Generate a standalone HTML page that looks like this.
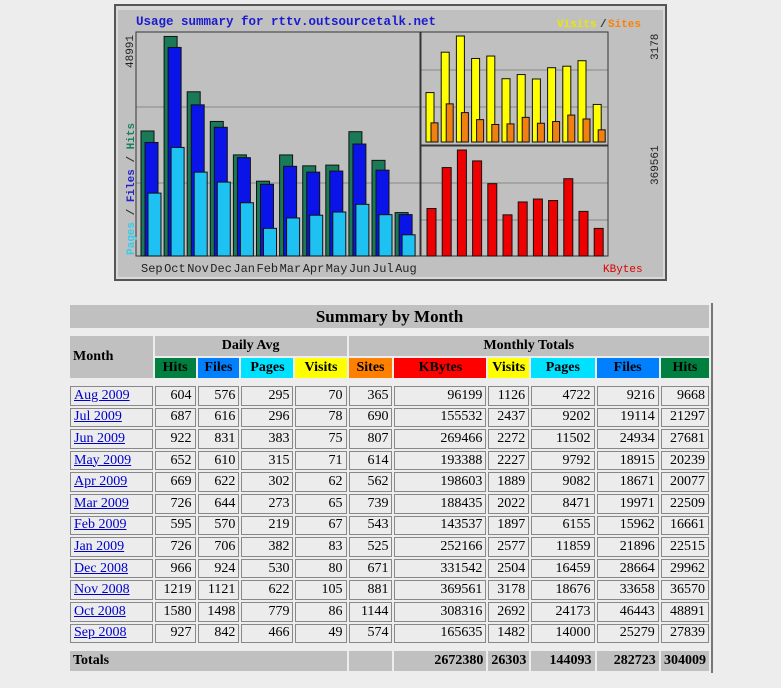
<!DOCTYPE html>
<html><head><meta charset="utf-8"><style>
body{margin:0;background:#ededed;width:781px;height:688px;overflow:hidden;position:relative;font-family:"Liberation Serif",serif}
#chart{position:absolute;left:0;top:0}
table{position:absolute;left:68px;top:303px;border-collapse:separate;border-spacing:2px;table-layout:fixed;width:645px;font-size:14px;background:#ededed;border-right:2px solid #777}
td,th{padding:0 3px;overflow:hidden;white-space:nowrap}
.t{background:#c0c0c0;font-size:17px;font-weight:bold;text-align:center;height:23px}
.h{background:#c0c0c0;font-weight:bold;text-align:center;font-size:14px;height:20px}
.d td{background:#ececec;border:1px solid #888;text-align:right;height:17.6px;font-size:14px;line-height:16px}
.d td:first-child{text-align:left}
a{color:#0000cc;text-decoration:underline}
.tot td{background:#c0c0c0;font-weight:bold;text-align:right;height:20px}
</style></head><body>
<svg id="chart" width="781" height="290" xmlns="http://www.w3.org/2000/svg" font-family="Liberation Mono, monospace">
<rect x="115" y="5" width="551" height="275" fill="#d8d8d8" stroke="#555" stroke-width="2"/>
<rect x="118" y="10" width="545" height="267" fill="#c0c0c0"/>
<text x="136" y="25" font-size="12.5" font-weight="bold" fill="#1a1ad0">Usage summary for rttv.outsourcetalk.net</text>
<text x="557" y="27" font-size="11" font-weight="bold" fill="#e8e800">Visits</text><text x="600" y="27" font-size="11" font-weight="bold" fill="#333">/</text><text x="608" y="27" font-size="11" font-weight="bold" fill="#ff8000">Sites</text>
<g stroke="#888" stroke-width="1"><line x1="136" y1="107" x2="420" y2="107"/><line x1="136" y1="183" x2="420" y2="183"/>
<line x1="421" y1="70" x2="608" y2="70"/><line x1="421" y1="107" x2="608" y2="107"/><line x1="421" y1="183" x2="608" y2="183"/><line x1="421" y1="220" x2="608" y2="220"/></g>
<g fill="none" stroke="#333"><rect x="136" y="32" width="284" height="224"/><rect x="421" y="32" width="187" height="113"/><rect x="421" y="146" width="187" height="110"/></g>
<g id="bars" stroke="#111" stroke-width="1"></g>
<text transform="translate(133,68) rotate(-90)" font-size="11" fill="#222">48991</text>
<text transform="translate(658,60) rotate(-90)" font-size="11" fill="#222">3178</text>
<text transform="translate(658,185) rotate(-90)" font-size="11" fill="#222">369561</text>
<text transform="translate(134,255) rotate(-90)" font-size="11" font-weight="bold"><tspan fill="#33ccee">Pages</tspan><tspan fill="#333"> / </tspan><tspan fill="#2222cc">Files</tspan><tspan fill="#333"> / </tspan><tspan fill="#1a8060">Hits</tspan></text>
<g id="months" font-size="12" fill="#222"></g>
<text x="603" y="272" font-size="11" fill="#e00000">KBytes</text>
</svg>
<script>
var H=[27839,48891,36570,29962,22515,16661,22509,20077,20239,27681,21297,9668],
F=[25279,46443,33658,28664,21896,15962,19971,18671,18915,24934,19114,9216],
P=[14000,24173,18676,16459,11859,6155,8471,9082,9792,11502,9202,4722],
V=[1482,2692,3178,2504,2577,1897,2022,1889,2227,2272,2437,1126],
S=[574,1144,881,671,525,543,739,562,614,807,690,365],
K=[165635,308316,369561,331542,252166,143537,188435,198603,193388,269466,155532,96199],
M=["Sep","Oct","Nov","Dec","Jan","Feb","Mar","Apr","May","Jun","Jul","Aug"];
var s="",m="";
function r(x,y,w,h,c){return '<rect x="'+x+'" y="'+y+'" width="'+w+'" height="'+h+'" fill="'+c+'"/>';}
for(var i=0;i<12;i++){var x=141+i*23.1;
var h=H[i]/48991*220;s+=r(x,256-h,13,h,"#1a7a58");
h=F[i]/48991*220;s+=r(x+4,256-h,13,h,"#0a14e8");
h=P[i]/48991*220;s+=r(x+7,256-h,13,h,"#1ec2f2");
var vx=426+i*15.2;h=V[i]/3178*106;s+=r(vx,142-h,8,h,"#ffff00");
h=S[i]/3178*106;s+=r(vx+5,142-h,7,h,"#f08010");
h=K[i]/369561*106;s+=r(427+i*15.2,256-h,9,h,"#ee0000");
m+='<text x="'+(141+i*23.1)+'" y="272">'+M[i]+'</text>';}
document.getElementById("bars").innerHTML=s;document.getElementById("months").innerHTML=m;
</script>
<table>
<colgroup><col style="width:81px"><col style="width:40px"><col style="width:41px"><col style="width:51px"><col style="width:50px"><col style="width:43px"><col style="width:90px"><col style="width:40px"><col style="width:62px"><col style="width:61px"><col style="width:47px"></colgroup>
<tr><td colspan="11" class="t">Summary by Month</td></tr>
<tr style="height:4px"><td colspan="11" style="height:2px;padding:0"></td></tr>
<tr><td rowspan="2" class="h" style="text-align:left">Month</td><td colspan="4" class="h">Daily Avg</td><td colspan="6" class="h">Monthly Totals</td></tr>
<tr class="h">
<td class="h" style="background:#008040">Hits</td><td class="h" style="background:#0080ff">Files</td><td class="h" style="background:#00e0ff">Pages</td><td class="h" style="background:#ffff00">Visits</td><td class="h" style="background:#ff8000">Sites</td><td class="h" style="background:#ff0000">KBytes</td><td class="h" style="background:#ffff00">Visits</td><td class="h" style="background:#00e0ff">Pages</td><td class="h" style="background:#0080ff">Files</td><td class="h" style="background:#008040">Hits</td></tr>
<tr style="height:4px"><td colspan="11" style="height:2px;padding:0"></td></tr>
<tr class="d"><td><a>Aug 2009</a></td><td>604</td><td>576</td><td>295</td><td>70</td><td>365</td><td>96199</td><td>1126</td><td>4722</td><td>9216</td><td>9668</td></tr>
<tr class="d"><td><a>Jul 2009</a></td><td>687</td><td>616</td><td>296</td><td>78</td><td>690</td><td>155532</td><td>2437</td><td>9202</td><td>19114</td><td>21297</td></tr>
<tr class="d"><td><a>Jun 2009</a></td><td>922</td><td>831</td><td>383</td><td>75</td><td>807</td><td>269466</td><td>2272</td><td>11502</td><td>24934</td><td>27681</td></tr>
<tr class="d"><td><a>May 2009</a></td><td>652</td><td>610</td><td>315</td><td>71</td><td>614</td><td>193388</td><td>2227</td><td>9792</td><td>18915</td><td>20239</td></tr>
<tr class="d"><td><a>Apr 2009</a></td><td>669</td><td>622</td><td>302</td><td>62</td><td>562</td><td>198603</td><td>1889</td><td>9082</td><td>18671</td><td>20077</td></tr>
<tr class="d"><td><a>Mar 2009</a></td><td>726</td><td>644</td><td>273</td><td>65</td><td>739</td><td>188435</td><td>2022</td><td>8471</td><td>19971</td><td>22509</td></tr>
<tr class="d"><td><a>Feb 2009</a></td><td>595</td><td>570</td><td>219</td><td>67</td><td>543</td><td>143537</td><td>1897</td><td>6155</td><td>15962</td><td>16661</td></tr>
<tr class="d"><td><a>Jan 2009</a></td><td>726</td><td>706</td><td>382</td><td>83</td><td>525</td><td>252166</td><td>2577</td><td>11859</td><td>21896</td><td>22515</td></tr>
<tr class="d"><td><a>Dec 2008</a></td><td>966</td><td>924</td><td>530</td><td>80</td><td>671</td><td>331542</td><td>2504</td><td>16459</td><td>28664</td><td>29962</td></tr>
<tr class="d"><td><a>Nov 2008</a></td><td>1219</td><td>1121</td><td>622</td><td>105</td><td>881</td><td>369561</td><td>3178</td><td>18676</td><td>33658</td><td>36570</td></tr>
<tr class="d"><td><a>Oct 2008</a></td><td>1580</td><td>1498</td><td>779</td><td>86</td><td>1144</td><td>308316</td><td>2692</td><td>24173</td><td>46443</td><td>48891</td></tr>
<tr class="d"><td><a>Sep 2008</a></td><td>927</td><td>842</td><td>466</td><td>49</td><td>574</td><td>165635</td><td>1482</td><td>14000</td><td>25279</td><td>27839</td></tr>
<tr style="height:4px"><td colspan="11" style="height:2px;padding:0"></td></tr>
<tr class="tot"><td colspan="5" style="text-align:left">Totals</td><td></td><td>2672380</td><td>26303</td><td>144093</td><td>282723</td><td>304009</td></tr>
</table>
</body></html>
